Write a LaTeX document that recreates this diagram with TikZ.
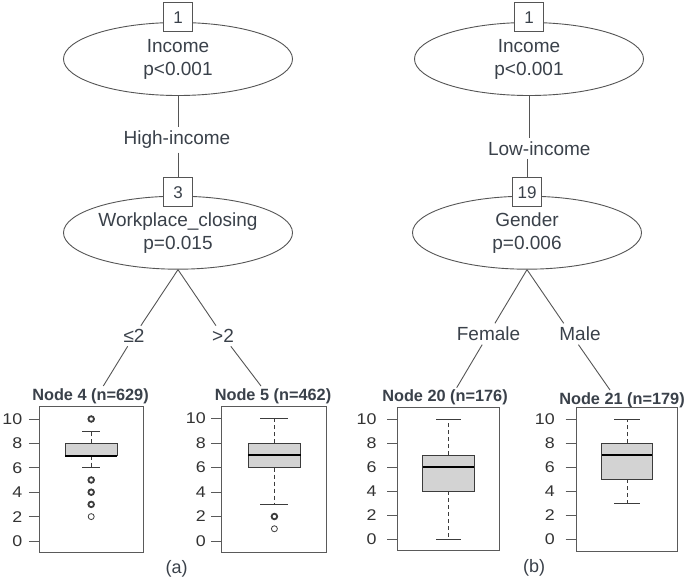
\documentclass[tikz,border=0pt]{standalone}
\usepackage{graphicx}
\usepackage{fontspec}
\setmainfont{Liberation Sans}
\usetikzlibrary{shapes.geometric}
\definecolor{txt}{HTML}{3A414A}
\definecolor{ln}{HTML}{555555}
\definecolor{bpfill}{HTML}{D3D3D3}
\definecolor{bpln}{HTML}{3C3C3C}
\definecolor{axc}{HTML}{333333}
\definecolor{frc}{HTML}{5A5A5A}
\tikzset{
  splitnode/.style={ellipse, draw=ln, line width=0.9bp, minimum width=229bp, minimum height=73bp,
    inner sep=0pt, align=center, text=txt, font=\fontsize{19bp}{23bp}\selectfont},
  idbox/.style={rectangle, draw=ln, fill=white, line width=0.9bp, minimum width=29bp,
    minimum height=29bp, inner sep=0pt, text=txt, font=\fontsize{17bp}{20bp}\selectfont},
  edgelab/.style={inner sep=3.5bp, text=txt, font=\fontsize{19bp}{23bp}\selectfont},
  conn/.style={draw=ln, line width=0.9bp},
  ptitle/.style={inner sep=0pt, text=txt, font=\fontsize{16.3bp}{19bp}\selectfont\bfseries},
  axlab/.style={inner sep=0pt, anchor=east, text=axc, font=\fontsize{15.5bp}{18bp}\selectfont},
  captext/.style={inner sep=0pt, text=txt, font=\fontsize{18bp}{21bp}\selectfont},
  frame/.style={draw=frc, line width=1bp},
  tickl/.style={draw=frc, line width=1bp},
  whisk/.style={draw=bpln, line width=0.9bp, dash pattern=on 4bp off 3bp},
  capl/.style={draw=bpln, line width=0.9bp},
  bxs/.style={draw=bpln, fill=bpfill, line width=0.9bp},
  medl/.style={draw=black, line width=2.2bp},
  outb/.style={draw=bpln, line width=1.8bp},
  outt/.style={draw=bpln, line width=0.8bp},
}
\pgfkeys{
  /bp/name/.store in=\bpName,
  /bp/zero/.store in=\bpZero,
  /bp/unit/.store in=\bpUnit,
  /bp/left/.store in=\bpLeft,
  /bp/right/.store in=\bpRight,
  /bp/top/.store in=\bpTop,
  /bp/bottom/.store in=\bpBottom,
  /bp/labx/.store in=\bpLabx,
  /bp/cx/.store in=\bpCx,
  /bp/hw/.store in=\bpHw,
  /bp/capw/.store in=\bpCap,
  /bp/lo/.store in=\bpLo,
  /bp/qa/.store in=\bpQa,
  /bp/md/.store in=\bpMd,
  /bp/qc/.store in=\bpQc,
  /bp/hi/.store in=\bpHi,
  /bp/bold/.store in=\bpBold,
  /bp/thin/.store in=\bpThin,
}
\newcommand\bxplot[1]{%
  \pgfkeys{/bp/.cd,#1}%
  \draw[frame] (\bpLeft,\bpTop) rectangle (\bpRight,\bpBottom);
  \begin{scope}[shift={(0,\bpZero)}, y=\bpUnit bp]
    \foreach \v in {0,2,...,10} {
      \draw[tickl] ({\bpLeft-10.5},\v) -- (\bpLeft,\v);
      \node[axlab] (\bpName-\v) at (\bpLabx,\v) {\scalebox{1.15}[1]{\v}};
    }
    \draw[whisk] (\bpCx,\bpQc) -- (\bpCx,\bpHi);
    \draw[whisk] (\bpCx,\bpQa) -- (\bpCx,\bpLo);
    \draw[capl] ({\bpCx-\bpCap/2},\bpHi) -- ({\bpCx+\bpCap/2},\bpHi);
    \draw[capl] ({\bpCx-\bpCap/2},\bpLo) -- ({\bpCx+\bpCap/2},\bpLo);
    \draw[bxs] ({\bpCx-\bpHw},\bpQa) rectangle ({\bpCx+\bpHw},\bpQc);
    \draw[medl] ({\bpCx-\bpHw},\bpMd) -- ({\bpCx+\bpHw},\bpMd);
    \ifx\bpBold\empty\else
      \foreach \v in \bpBold {\draw[outb] (\bpCx,\v) circle[radius=2.8bp];}
    \fi
    \ifx\bpThin\empty\else
      \foreach \v in \bpThin {\draw[outt] (\bpCx,\v) circle[radius=3bp];}
    \fi
  \end{scope}%
}
\begin{document}
\begin{tikzpicture}[x=1bp,y=-1bp]
\useasboundingbox (0,0) rectangle (694,582);
\fill[white] (0,0) rectangle (694,582);

% ---------- left tree (a)
\node[splitnode] (a1) at (178,59) {Income\\p<0.001};
\node[idbox] (a1n) at (178,17.2) {1};
\node[edgelab] (ahi) at (177,140) {High-income};
\node[splitnode] (a3) at (178,232.7) {Workplace\_closing\\p=0.015};
\node[idbox] (a3n) at (178,192.2) {3};
\draw[conn] (a1.south) -- (a1.south |- ahi.north);
\draw[conn] (a3n.north |- ahi.south) -- (a3n.north);

\node[edgelab] (ale) at (134,336) {≤2};
\node[edgelab] (agt) at (223,336) {>2};
\coordinate (a4top) at (103.3,386);
\coordinate (a5top) at (261,386);
\draw[conn] (a3.south) -- (ale) -- (a4top);
\draw[conn] (a3.south) -- (agt) -- (a5top);

\node[ptitle] (t4) at (90.5,396.7) {Node 4 (n=629)};
\node[ptitle] (t5) at (273,396.7) {Node 5 (n=462)};

\bxplot{name=p4, zero=541, unit=12.2, left=39.3, right=143.3, top=406.7, bottom=552,
  labx=22.5, cx=91.2, hw=26.2, capw=18, lo=6, qa=7, md=7, qc=8, hi=9, bold={10,5,4,3}, thin={2}}
\bxplot{name=p5, zero=541, unit=12.25, left=221.7, right=326, top=406.7, bottom=552.5,
  labx=206, cx=274.4, hw=26.3, capw=28, lo=3, qa=6, md=7, qc=8, hi=10, bold={2}, thin={1}}

\node[captext] (capa) at (176.7,569) {(a)};

% ---------- right tree (b)
\node[splitnode] (b1) at (529,59) {Income\\p<0.001};
\node[idbox] (b1n) at (529,17.2) {1};
\node[edgelab] (blo) at (539.3,148.3) {Low-income};
\node[splitnode] (b19) at (527,232.7) {Gender\\p=0.006};
\node[idbox] (b19n) at (527,192.2) {19};
\draw[conn] (b1.south) -- (b1.south |- blo.north);
\draw[conn] (b19n.north |- blo.south) -- (b19n.north);

\node[edgelab] (bfe) at (488.5,334) {Female};
\node[edgelab] (bma) at (571,334) {\hspace*{18bp}Male};
\coordinate (b20top) at (456.7,387.7);
\coordinate (b21top) at (610,390);
\draw[conn] (b19.south) -- (bfe) -- (b20top);
\draw[conn] (b19.south) -- (bma) -- (b21top);

\node[ptitle] (t20) at (445,397.3) {Node 20 (n=176)};
\node[ptitle] (t21) at (622,400.7) {Node 21 (n=179)};

\bxplot{name=p20, zero=539, unit=11.97, left=397.7, right=499, top=407.7, bottom=550.7,
  labx=376.7, cx=448.5, hw=25.8, capw=25, lo=0, qa=4, md=6, qc=7, hi=10, bold={}, thin={}}
\bxplot{name=p21, zero=539.3, unit=12, left=576, right=677, top=407.5, bottom=551,
  labx=555, cx=627, hw=25.2, capw=26, lo=3, qa=5, md=7, qc=8, hi=10, bold={}, thin={}}

\node[captext] (capb) at (534,568) {(b)};
\end{tikzpicture}
\end{document}
